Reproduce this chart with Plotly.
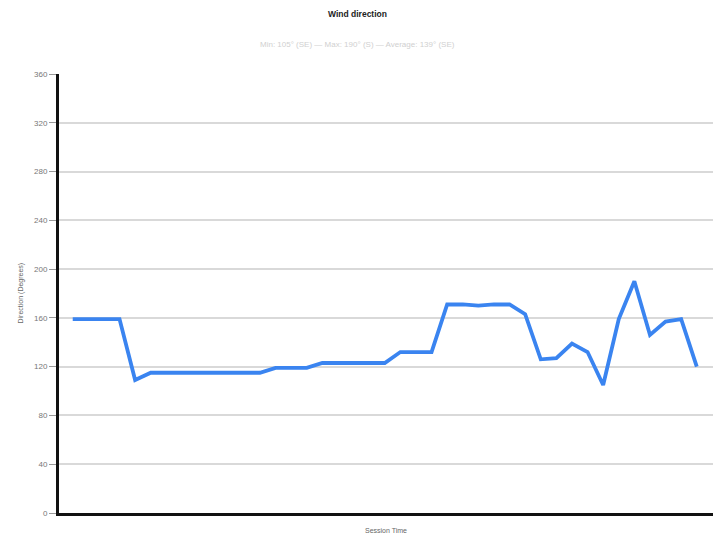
import plotly.graph_objects as go

session_index = list(range(41))
direction_deg = [159, 159, 159, 159, 109, 115, 115, 115, 115, 115, 115, 115, 115,
                 119, 119, 119, 123, 123, 123, 123, 123, 132, 132, 132,
                 171, 171, 170, 171, 171, 163, 126, 127, 139, 132, 105,
                 159, 190, 146, 157, 159, 120]
y_ticks = [0, 40, 80, 120, 160, 200, 240, 280, 320, 360]

title_text = "Wind direction"
subtitle_text = "Min: 105° (SE) — Max: 190° (S) — Average: 139° (SE)"
x_title = "Session Time"
y_title = "Direction (Degrees)"

H = 535
PLOT_H = 439
PLOT_W = 654

fig = go.Figure()
fig.add_trace(go.Scatter(
    x=session_index, y=direction_deg, mode="lines",
    line=dict(color="#3a84f0", width=3.8), hoverinfo="y",
))

fig.update_layout(
    width=724, height=H,
    margin=dict(l=59, r=11, t=74, b=22, autoexpand=False),
    paper_bgcolor="white", plot_bgcolor="white",
    font=dict(family="Liberation Sans, Arial", size=8, color="#666"),
    showlegend=False,
    annotations=[
        dict(text="<b>" + title_text + "</b>", xref="paper", yref="paper",
             x=(357 - 59) / PLOT_W, y=1 + (74 - 14) / PLOT_H, xanchor="center", yanchor="middle",
             showarrow=False, font=dict(size=8.5, color="#222")),
        dict(text=subtitle_text, xref="paper", yref="paper",
             x=(357 - 59) / PLOT_W, y=1 + (74 - 44) / PLOT_H, xanchor="center", yanchor="middle",
             showarrow=False, font=dict(size=8, color="#d0d0d0")),
        dict(text=x_title, xref="paper", yref="paper",
             x=0.5, y=-(530 - 513) / PLOT_H, xanchor="center", yanchor="middle",
             showarrow=False, font=dict(size=7, color="#666")),
        dict(text=y_title, xref="paper", yref="paper",
             x=-(59 - 20) / PLOT_W, y=0.5, xanchor="center", yanchor="middle",
             textangle=-90, showarrow=False, font=dict(size=7, color="#666")),
    ],
    xaxis=dict(range=[-0.88, 41.04], showgrid=False, zeroline=False,
               showticklabels=False, ticks="", automargin=False,
               showline=True, linecolor="#111", linewidth=3),
    yaxis=dict(range=[0, 360], tickvals=y_ticks, ticktext=[str(v) for v in y_ticks],
               showgrid=True, gridcolor="#d9d9d9", gridwidth=2, zeroline=False,
               showline=True, linecolor="#111", linewidth=3, automargin=False,
               ticks="outside", ticklen=7, tickcolor="#999", tickwidth=1,
               tickfont=dict(size=8, color="#777")),
)

fig.write_html("out.html",
               config={"displayModeBar": False},
               post_script="document.body.style.margin='0';document.body.style.overflow='hidden';")
